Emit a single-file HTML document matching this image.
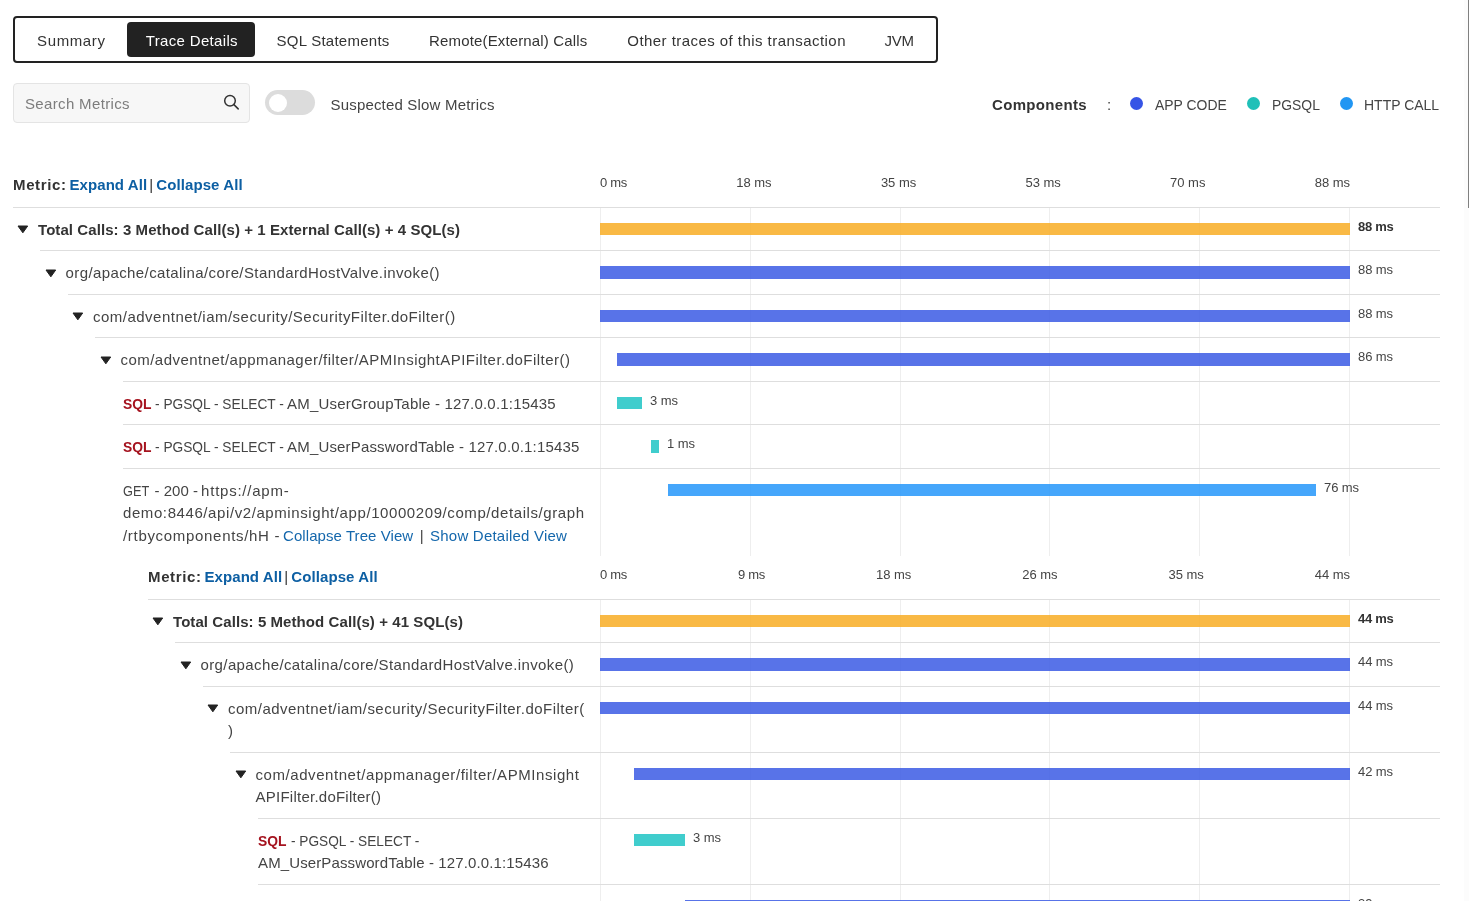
<!DOCTYPE html>
<html lang="en"><head><meta charset="utf-8"><title>Trace Details</title>
<style>
*{box-sizing:border-box}
html,body{margin:0;padding:0;background:#fff}
body{width:1469px;height:901px;overflow:hidden;position:relative;font-family:"Liberation Sans", sans-serif;font-size:15px;color:#444;line-height:22.5px}
a{color:#1467ac;text-decoration:none}
.tabs{position:absolute;left:13px;top:16px;width:925px;height:47px;border:2px solid #222;border-radius:4px;padding:4px 2px 0 2px;white-space:nowrap;font-size:0}
.tab{display:inline-block;height:35px;line-height:37px;margin:0 2px;text-align:left;font-size:15px;color:#333;border-radius:4px;white-space:nowrap;overflow:visible}
.tab.on{background:#222;color:#fff}
.search{position:absolute;left:13px;top:83px;width:237px;height:39.5px;background:#f7f7f7;border:1px solid #e4e4e4;border-radius:4px}
.search span{position:absolute;left:11px;top:8.6px;color:#7d7d7d;white-space:nowrap}
.search svg{position:absolute;left:208px;top:9px}
.tog{position:absolute;left:265px;top:90px;width:50px;height:25px;border-radius:13px;background:#dcdcdc}
.tog i{position:absolute;left:3.5px;top:3.8px;width:18.6px;height:18.6px;border-radius:50%;background:#fff}
.slow{position:absolute;left:330.5px;top:93.7px;white-space:nowrap;color:#444}
.legend{position:absolute;left:992px;top:93.7px;white-space:nowrap;color:#444}
.legend b{color:#333;position:absolute;left:0;top:0}
.legend .c{position:absolute;left:115px;top:0}
.legend i{position:absolute;top:3.3px;width:13px;height:13px;border-radius:50%}
.legend span.l{position:absolute;top:0}
.mt{position:absolute;white-space:nowrap;font-weight:700;color:#333}
.mt a{color:#0d5fa3}
.mt .p{position:absolute;top:0}
.axis{position:absolute;left:600px;width:750px;display:flex;justify-content:space-between;font-size:13px;color:#444;line-height:18px;white-space:nowrap}
.axis span{display:block;overflow:visible}
.grid{position:absolute;left:600px;width:750px}
.grid i{position:absolute;top:0;bottom:0;width:1px;background:#eee}
.tbl{position:absolute;left:0;width:1440px}
.row{display:flex;border-top:1px solid #dedede;position:relative}
.nm{padding:11.1px 0 8.9px 0;white-space:nowrap;position:relative;flex:none}
.nm.has{padding-left:25px}
.ln{display:block}
.row.b .nm{font-weight:700;color:#333}
.arw{position:absolute;top:17.3px;display:block}
.sql{color:#a5131f;font-weight:700}
.ch{flex:1;white-space:nowrap;font-size:0;padding-top:15px;line-height:0}
.bar{display:inline-block;height:12.5px;vertical-align:top}
.bar.total{background:rgba(248,173,36,.85)}
.bar.app{background:rgba(59,90,228,.85)}
.bar.pg{background:rgba(30,196,196,.85)}
.bar.http{background:rgba(36,150,250,.85)}
.val{display:inline-block;vertical-align:top;font-size:13px;line-height:18px;margin:-5px 0 0 8px;color:#444}
.row.b .val{font-weight:700;color:#333}
.sb{position:absolute;right:0;top:0;width:5px;height:901px;background:#fcfcfc}
.sb i{position:absolute;right:0;top:0;width:1.4px;height:207.5px;background:#808080}
</style></head>
<body>
<div class="tabs"><a class="tab" style="width:104px;padding-left:18.1px"><span style="letter-spacing:0.602px;">Summary</span></a><a class="tab on" style="width:128px;padding-left:18.8px"><span style="letter-spacing:0.332px;">Trace Details</span></a><a class="tab" style="width:149px;padding-left:17.5px"><span style="letter-spacing:0.254px;">SQL Statements</span></a><a class="tab" style="width:194.3px;padding-left:17.1px"><span style="letter-spacing:0.145px;">Remote(External) Calls</span></a><a class="tab" style="width:254.4px;padding-left:17.0px"><span style="letter-spacing:0.449px;">Other traces of this transaction</span></a><a class="tab" style="width:65.5px;padding-left:15.9px"><span style="letter-spacing:-0.350px;">JVM</span></a></div>
<div class="search"><span style="letter-spacing:0.344px;">Search Metrics</span><svg width="18" height="18" viewBox="0 0 18 18" fill="none" stroke="#333" stroke-width="1.5" stroke-linecap="round"><circle cx="8" cy="7.7" r="5.3"/><path d="M11.9 11.6L16.2 15.9"/></svg></div>
<div class="tog"><i></i></div>
<div class="slow"><span style="letter-spacing:0.182px;">Suspected Slow Metrics</span></div>
<div class="legend"><b style="letter-spacing:0.325px;">Components</b><span class="c">:</span>
<i style="left:138px;background:#3654e6"></i><span class="l" style="left:163px"><span style="display:inline-block;transform-origin:0 50%;transform:scaleX(0.929);white-space:nowrap;">APP CODE</span></span>
<i style="left:254.5px;background:#1fc0b8"></i><span class="l" style="left:280px"><span style="display:inline-block;transform-origin:0 50%;transform:scaleX(0.927);white-space:nowrap;">PGSQL</span></span>
<i style="left:347.5px;background:#2196f3"></i><span class="l" style="left:372.3px"><span style="display:inline-block;transform-origin:0 50%;transform:scaleX(0.932);white-space:nowrap;">HTTP CALL</span></span>
</div>

<div class="mt" style="top:174px;left:13px"><span style="letter-spacing:0.635px;">Metric:</span> <span class="p" style="left:56.5px"><a style="letter-spacing:0.070px;">Expand All</a></span><span class="p" style="left:136.3px;font-weight:400"><span>|</span></span><span class="p" style="left:143.3px"><a style="letter-spacing:0.090px;">Collapse All</a></span></div>
<div class="axis" style="top:173.6px"><span style="letter-spacing:-0.291px;">0 ms</span><span style="letter-spacing:-0.027px;">18 ms</span><span style="letter-spacing:-0.027px;">35 ms</span><span style="letter-spacing:-0.027px;">53 ms</span><span style="letter-spacing:-0.027px;">70 ms</span><span style="letter-spacing:-0.027px;">88 ms</span></div>
<div class="grid" style="top:208px;height:348px"><i style="left:0"></i><i style="left:150px"></i><i style="left:299.6px"></i><i style="left:449px"></i><i style="left:599px"></i><i style="left:749px"></i></div>
<div class="tbl" style="top:206.9px">
<div class="row b" style="margin-left:13px">
<div class="nm has" style="width:587px;padding-left:25px"><svg class="arw" style="left:4.0px" width="12" height="9" viewBox="0 0 12 9"><path d="M1 1H10.7L5.85 7.8Z" fill="#222" stroke="#222" stroke-width="1" stroke-linejoin="round"/></svg><span class="ln"><span style="letter-spacing:0.078px;">Total Calls: 3 Method Call(s) + 1 External Call(s) + 4 SQL(s)</span></span></div>
<div class="ch"><span class="bar total" style="margin-left:0px;width:750px"></span><span class="val" style="letter-spacing:-0.294px;">88 ms</span></div>
</div>
<div class="row" style="margin-left:40px">
<div class="nm has" style="width:560px;padding-left:25.5px"><svg class="arw" style="left:4.5px" width="12" height="9" viewBox="0 0 12 9"><path d="M1 1H10.7L5.85 7.8Z" fill="#222" stroke="#222" stroke-width="1" stroke-linejoin="round"/></svg><span class="ln"><span style="letter-spacing:0.400px;">org/apache/catalina/core/StandardHostValve.invoke()</span></span></div>
<div class="ch"><span class="bar app" style="margin-left:0px;width:750px"></span><span class="val" style="letter-spacing:-0.102px;">88 ms</span></div>
</div>
<div class="row" style="margin-left:68px">
<div class="nm has" style="width:532px;padding-left:25px"><svg class="arw" style="left:4.0px" width="12" height="9" viewBox="0 0 12 9"><path d="M1 1H10.7L5.85 7.8Z" fill="#222" stroke="#222" stroke-width="1" stroke-linejoin="round"/></svg><span class="ln"><span style="letter-spacing:0.484px;">com/adventnet/iam/security/SecurityFilter.doFilter()</span></span></div>
<div class="ch"><span class="bar app" style="margin-left:0px;width:750px"></span><span class="val" style="letter-spacing:-0.102px;">88 ms</span></div>
</div>
<div class="row" style="margin-left:95px">
<div class="nm has" style="width:505px;padding-left:25.5px"><svg class="arw" style="left:4.5px" width="12" height="9" viewBox="0 0 12 9"><path d="M1 1H10.7L5.85 7.8Z" fill="#222" stroke="#222" stroke-width="1" stroke-linejoin="round"/></svg><span class="ln"><span style="letter-spacing:0.465px;">com/adventnet/appmanager/filter/APMInsightAPIFilter.doFilter()</span></span></div>
<div class="ch"><span class="bar app" style="margin-left:17px;width:733px"></span><span class="val" style="letter-spacing:-0.102px;">86 ms</span></div>
</div>
<div class="row" style="margin-left:123px">
<div class="nm" style="width:477px;padding-left:0px"><span class="ln"><span class="sql" style="display:inline-block;width:32.4px;transform-origin:0 50%;transform:scaleX(0.924);white-space:nowrap;">SQL </span><span style="display:inline-block;width:131.7px;transform-origin:0 50%;transform:scaleX(0.915);white-space:nowrap;">- PGSQL - SELECT - </span><span style="letter-spacing:0.199px;">AM_UserGroupTable - 127.0.0.1:15435</span></span></div>
<div class="ch"><span class="bar pg" style="margin-left:17px;width:25px"></span><span class="val" style="letter-spacing:-0.091px;">3 ms</span></div>
</div>
<div class="row" style="margin-left:123px">
<div class="nm" style="width:477px;padding-left:0px"><span class="ln"><span class="sql" style="display:inline-block;width:32.4px;transform-origin:0 50%;transform:scaleX(0.924);white-space:nowrap;">SQL </span><span style="display:inline-block;width:131.7px;transform-origin:0 50%;transform:scaleX(0.915);white-space:nowrap;">- PGSQL - SELECT - </span><span style="letter-spacing:0.168px;">AM_UserPasswordTable - 127.0.0.1:15435</span></span></div>
<div class="ch"><span class="bar pg" style="margin-left:51px;width:8px"></span><span class="val" style="letter-spacing:-0.091px;">1 ms</span></div>
</div>
<div class="row" style="margin-left:123px">
<div class="nm" style="width:477px;padding-left:0px"><span class="ln"><span style="display:inline-block;width:31.6px;transform-origin:0 50%;transform:scaleX(0.849);white-space:nowrap;">GET </span><span style="display:inline-block;width:46.5px;letter-spacing:0.007px;">- 200 - </span><span style="letter-spacing:0.763px;">https://apm-</span></span><span class="ln"><span style="letter-spacing:0.588px;">demo:8446/api/v2/apminsight/app/10000209/comp/details/graph</span></span><span class="ln"><span style="display:inline-block;width:160px;letter-spacing:0.689px;">/rtbycomponents/hH - </span><a style="display:inline-block;width:130.2px;letter-spacing:0.072px;">Collapse Tree View </a><span style="display:inline-block;width:16.9px;text-align:center">| </span><a style="letter-spacing:0.215px;">Show Detailed View</a></span></div>
<div class="ch"><span class="bar http" style="margin-left:68px;width:648px"></span><span class="val" style="letter-spacing:-0.102px;">76 ms</span></div>
</div>
</div>

<div class="mt" style="top:566px;left:148px"><span style="letter-spacing:0.635px;">Metric:</span> <span class="p" style="left:56.5px"><a style="letter-spacing:0.070px;">Expand All</a></span><span class="p" style="left:136.3px;font-weight:400"><span>|</span></span><span class="p" style="left:143.3px"><a style="letter-spacing:0.090px;">Collapse All</a></span></div>
<div class="axis" style="top:565.6px"><span style="letter-spacing:-0.291px;">0 ms</span><span style="letter-spacing:-0.291px;">9 ms</span><span style="letter-spacing:-0.027px;">18 ms</span><span style="letter-spacing:-0.027px;">26 ms</span><span style="letter-spacing:-0.027px;">35 ms</span><span style="letter-spacing:-0.027px;">44 ms</span></div>
<div class="grid" style="top:600px;height:301px"><i style="left:0"></i><i style="left:150px"></i><i style="left:299.6px"></i><i style="left:449px"></i><i style="left:599px"></i><i style="left:749px"></i></div>
<div class="tbl" style="top:598.9px">
<div class="row b" style="margin-left:148px">
<div class="nm has" style="width:452px;padding-left:25px"><svg class="arw" style="left:4.0px" width="12" height="9" viewBox="0 0 12 9"><path d="M1 1H10.7L5.85 7.8Z" fill="#222" stroke="#222" stroke-width="1" stroke-linejoin="round"/></svg><span class="ln"><span style="letter-spacing:0.076px;">Total Calls: 5 Method Call(s) + 41 SQL(s)</span></span></div>
<div class="ch"><span class="bar total" style="margin-left:0px;width:750px"></span><span class="val" style="letter-spacing:-0.294px;">44 ms</span></div>
</div>
<div class="row" style="margin-left:175px">
<div class="nm has" style="width:425px;padding-left:25.5px"><svg class="arw" style="left:4.5px" width="12" height="9" viewBox="0 0 12 9"><path d="M1 1H10.7L5.85 7.8Z" fill="#222" stroke="#222" stroke-width="1" stroke-linejoin="round"/></svg><span class="ln"><span style="letter-spacing:0.384px;">org/apache/catalina/core/StandardHostValve.invoke()</span></span></div>
<div class="ch"><span class="bar app" style="margin-left:0px;width:750px"></span><span class="val" style="letter-spacing:-0.102px;">44 ms</span></div>
</div>
<div class="row" style="margin-left:203px">
<div class="nm has" style="width:397px;padding-left:25px"><svg class="arw" style="left:4.0px" width="12" height="9" viewBox="0 0 12 9"><path d="M1 1H10.7L5.85 7.8Z" fill="#222" stroke="#222" stroke-width="1" stroke-linejoin="round"/></svg><span class="ln"><span style="letter-spacing:0.471px;">com/adventnet/iam/security/SecurityFilter.doFilter(</span></span><span class="ln"><span>)</span></span></div>
<div class="ch"><span class="bar app" style="margin-left:0px;width:750px"></span><span class="val" style="letter-spacing:-0.102px;">44 ms</span></div>
</div>
<div class="row" style="margin-left:230px">
<div class="nm has" style="width:370px;padding-left:25.5px"><svg class="arw" style="left:4.5px" width="12" height="9" viewBox="0 0 12 9"><path d="M1 1H10.7L5.85 7.8Z" fill="#222" stroke="#222" stroke-width="1" stroke-linejoin="round"/></svg><span class="ln"><span style="letter-spacing:0.567px;">com/adventnet/appmanager/filter/APMInsight</span></span><span class="ln"><span style="letter-spacing:0.244px;">APIFilter.doFilter()</span></span></div>
<div class="ch"><span class="bar app" style="margin-left:34px;width:716px"></span><span class="val" style="letter-spacing:-0.102px;">42 ms</span></div>
</div>
<div class="row" style="margin-left:258px">
<div class="nm" style="width:342px;padding-left:0px"><span class="ln"><span class="sql" style="display:inline-block;width:33px;transform-origin:0 50%;transform:scaleX(0.924);white-space:nowrap;">SQL </span><span style="display:inline-block;transform-origin:0 50%;transform:scaleX(0.911);white-space:nowrap;">- PGSQL - SELECT - </span></span><span class="ln"><span style="letter-spacing:0.122px;">AM_UserPasswordTable - 127.0.0.1:15436</span></span></div>
<div class="ch"><span class="bar pg" style="margin-left:34px;width:51px"></span><span class="val" style="letter-spacing:-0.091px;">3 ms</span></div>
</div>
<div class="row" style="margin-left:258px">
<div class="nm has" style="width:342px;padding-left:25px"><svg class="arw" style="left:4.0px" width="12" height="9" viewBox="0 0 12 9"><path d="M1 1H10.7L5.85 7.8Z" fill="#222" stroke="#222" stroke-width="1" stroke-linejoin="round"/></svg><span class="ln"><span style="letter-spacing:-2.261px;">com/adventnet/appmanager/struts/actions/RestApiAction.execute(</span></span><span class="ln"><span>)</span></span></div>
<div class="ch"><span class="bar app" style="margin-left:85px;width:665px"></span><span class="val" style="letter-spacing:-0.102px;">39 ms</span></div>
</div>
</div>
<div class="sb"><i></i></div>
</body></html>
